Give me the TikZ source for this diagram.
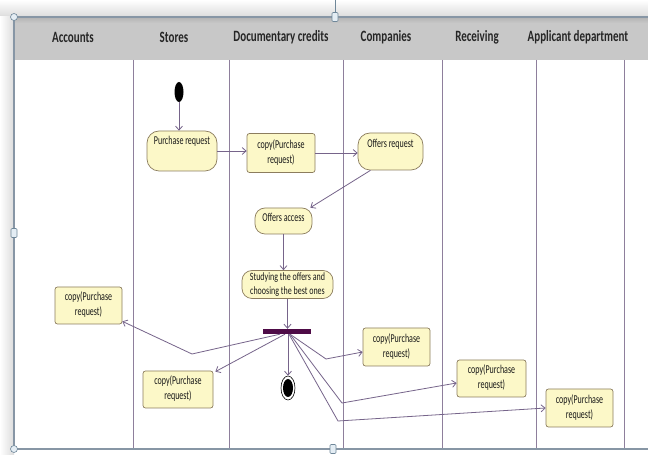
\documentclass[tikz,border=0pt]{standalone}
\usepackage{graphicx}
\usepackage{fontspec}
\setmainfont{Carlito}
\usetikzlibrary{arrows.meta,calc,shapes.geometric}
\definecolor{objf}{HTML}{FCF8C8}
\definecolor{objb}{HTML}{8C7D5E}
\definecolor{edgec}{HTML}{76648A}
\definecolor{lanec}{HTML}{8E7F9C}
\definecolor{framec}{HTML}{8796A5}
\definecolor{hdrf}{HTML}{C8C8C8}
\definecolor{forkc}{HTML}{4E0B47}
\definecolor{handf}{HTML}{E4EDF4}
\definecolor{handb}{HTML}{6F8799}
\newcommand\vt[2][1.5]{\scalebox{1}[#1]{\begin{tabular}{@{}c@{}}#2\end{tabular}}}
\tikzset{
  action/.style={draw=objb, fill=objf, rounded corners=12pt, line width=0.7pt, inner sep=0pt,
    font=\fontsize{8}{10}\selectfont, text=black!90},
  objnode/.style={draw=objb, fill=objf, rounded corners=2.5pt, line width=0.7pt, inner sep=0pt,
    font=\fontsize{8}{10}\selectfont, text=black!90},
  flow/.style={draw=edgec, line width=0.8pt, -{Straight Barb[length=4pt,width=7pt]}},
  lane/.style={draw=lanec, line width=0.6pt},
  hdr/.style={font=\bfseries\fontsize{11}{13}\selectfont, text=black!85, inner sep=0pt},
  handc/.style={circle, draw=handb, fill=handf, line width=0.6pt, minimum size=7pt, inner sep=0pt},
  hands/.style={rectangle, rounded corners=1pt, draw=handb, fill=handf, line width=0.6pt, minimum width=6pt, minimum height=9pt, inner sep=0pt}
}
\begin{document}
\begin{tikzpicture}[x=1pt,y=1pt]
\useasboundingbox (0,0) rectangle (648,455);
\fill[white] (0,0) rectangle (648,455);
% window shadows
\shade[top color=white, bottom color=black!14] (0,438) rectangle (648,455);
\shade[left color=white, right color=black!14] (0,0) rectangle (14,438);
% header
\fill[hdrf] (14,395) rectangle (648,438);
\shade[top color=black!30, bottom color=hdrf] (14,432) rectangle (648,438);
% lanes
\foreach \lx in {133,229,343,442,536,624} \draw[lane] (\lx,395) -- (\lx,6);
% frame
\draw[framec, line width=2pt] (648,438) -- (14,438) -- (14,6) -- (648,6);
% handles
\draw[handb, line width=0.6pt] (335,442) -- (335,455);
\node[handc] (h1) at (14,438) {};
\node[hands] (h2) at (335,438) {};
\node[hands] (h3) at (14,222) {};
\node[handc] (h4) at (14,6) {};
\node[hands] (h5) at (333,6) {};
% header texts
\node[hdr] (t1) at (73,418) {\scalebox{1}[1.43]{Accounts}};
\node[hdr] (t2) at (174,418) {\scalebox{1}[1.43]{Stores}};
\node[hdr] (t3) at (281,418) {\scalebox{1}[1.43]{Documentary credits}};
\node[hdr] (t4) at (386,418) {\scalebox{1}[1.43]{Companies}};
\node[hdr] (t5) at (477,418) {\scalebox{1}[1.43]{Receiving}};
\node[hdr] (t6) at (578,418) {\scalebox{1}[1.43]{Applicant department}};
% nodes
\node[ellipse, fill=black, minimum width=9pt, minimum height=20pt, inner sep=0pt] (init) at (179,363) {};
\node[action, minimum width=70pt, minimum height=40pt, text depth=24pt] (pr) at (182,304) {\vt{Purchase request}};
\node[objnode, minimum width=68pt, minimum height=39pt] (c1) at (281,302) {\vt{copy(Purchase\\request)}};
\node[action, minimum width=65pt, minimum height=37pt, text depth=19pt] (or) at (390.5,303.5) {\vt{Offers request}};
\node[action, minimum width=57pt, minimum height=26pt, text depth=10pt, rounded corners=10pt] (oa) at (283.5,234) {\vt{Offers access}};
\node[action, minimum width=91pt, minimum height=28pt, rounded corners=10pt] (st) at (287.5,170.5) {\vt[1.4]{Studying the offers and\\choosing the best ones}};
\node[rectangle, fill=forkc, minimum width=48pt, minimum height=5pt, inner sep=0pt] (fork) at (287,123.5) {};
\node[ellipse, draw=black, fill=white, line width=0.6pt, minimum width=14pt, minimum height=24pt, inner sep=0pt] (fin) at (288,67) {};
\fill[black] (fin.center) ellipse (5 and 9);
\node[objnode, minimum width=67pt, minimum height=37pt] (acc) at (88.5,149.5) {\vt{copy(Purchase\\request)}};
\node[objnode, minimum width=70pt, minimum height=37pt] (cs) at (178,65.5) {\vt{copy(Purchase\\request)}};
\node[objnode, minimum width=67pt, minimum height=38pt] (cc) at (396.5,108) {\vt{copy(Purchase\\request)}};
\node[objnode, minimum width=69pt, minimum height=37pt] (cr) at (491.5,76.5) {\vt{copy(Purchase\\request)}};
\node[objnode, minimum width=67pt, minimum height=38pt] (ca) at (579.5,47) {\vt{copy(Purchase\\request)}};
% bend points
\coordinate (b1) at (192,101);
\coordinate (b2) at (326,96);
\coordinate (b3) at (342,52);
\coordinate (b4) at (338,34);
% edges
\draw[flow] (init.south) -- (init.south |- pr.north);
\draw[flow] (pr.east) -- (pr.east -| c1.west);
\draw[flow] (c1.east) -- (c1.east -| or.west);
\draw[flow] ($(or.south)+(-20,0)$) -- ($(oa.north east)+(-2,0)$);
\draw[flow] (oa.south) -- (oa.south |- st.north);
\draw[flow] (st.south) -- (st.south |- fork.north);
\draw[flow] ($(fork.south)+(-7,0)$) -- (b1) -- ($(acc.south east)+(0,3)$);
\draw[flow] ($(fork.south)+(-2,0)$) -- ($(cs.north east)+(2,-1)$);
\draw[flow] ($(fork.south)+(1,0)$) -- (fin.north);
\draw[flow] ($(fork.south)+(3,0)$) -- (b2) -- ($(cc.west)+(0,-5)$);
\draw[flow] ($(fork.south)+(3,0)$) -- (b3) -- ($(cr.west)+(0,-4.5)$);
\draw[flow] ($(fork.south)+(2,0)$) -- (b4) -- (ca.west);
\end{tikzpicture}
\end{document}
